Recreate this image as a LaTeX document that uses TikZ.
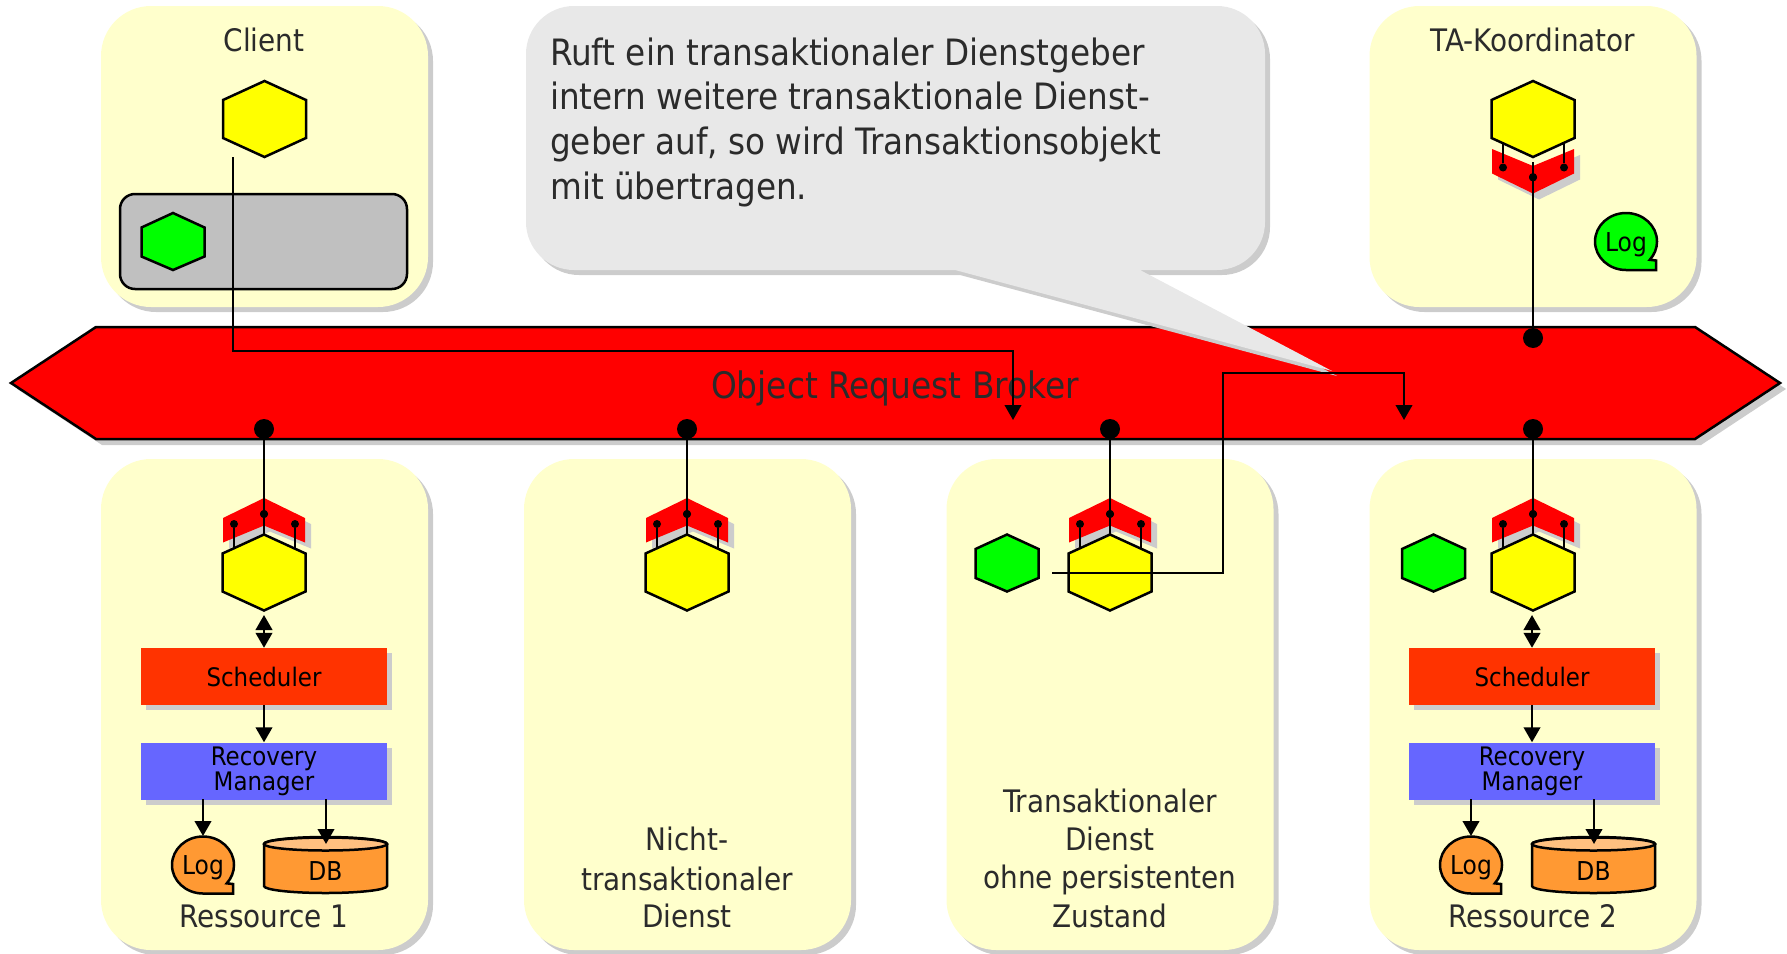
\documentclass[tikz,border=0pt]{standalone}
\usepackage{fontspec}
\setmainfont{DejaVu Sans Condensed}
\usetikzlibrary{arrows.meta,shadows}
\definecolor{panelc}{HTML}{FFFFCC}
\definecolor{shadec}{HTML}{CCCCCC}
\definecolor{bubblec}{HTML}{E8E8E8}
\definecolor{schedc}{HTML}{FF3300}
\definecolor{recoc}{HTML}{6666FF}
\definecolor{orangec}{HTML}{FF9933}
\definecolor{dbtopc}{HTML}{FFC080}
\definecolor{textc}{HTML}{2B2B2B}
\definecolor{hexy}{HTML}{FFFF00}
\definecolor{hexg}{HTML}{00FF00}
\definecolor{orbc}{HTML}{FF0000}
\definecolor{boxg}{HTML}{C0C0C0}
\newcommand{\fsz}[1]{\fontsize{#1}{#1}\selectfont}
\tikzset{
  >={Triangle[length=15pt,width=16.5pt]},
  shd/.style={drop shadow={shadow xshift=6pt,shadow yshift=-6pt,opacity=1,fill=shadec}},
  line/.style={line width=2.5pt},
  panel/.style={fill=panelc,rounded corners=50pt,minimum width=327pt,inner sep=0pt,
    drop shadow={shadow xshift=5pt,shadow yshift=-5pt,opacity=1,fill=shadec}},
  caption/.style={text=textc,font=\fsz{31},align=center,inner sep=0pt},
  blockb/.style={minimum width=246pt,minimum height=57pt,inner sep=0pt,align=center,
    font=\fontsize{25.5}{25}\selectfont,
    drop shadow={shadow xshift=5pt,shadow yshift=-5pt,opacity=1,fill=shadec}},
  smalltxt/.style={font=\fsz{26},inner sep=0pt},
  dotb/.style={circle,fill=black,minimum size=20pt,inner sep=0pt},
  dots/.style={circle,fill=black,minimum size=8pt,inner sep=0pt},
  % grosses und kleines Sechseck
  hexa/.pic={
    \draw[line,pic actions] (0,-38)--(41.5,-19)--(41.5,19)--(0,38)--(-41.5,19)--(-41.5,-19)--cycle;
    \coordinate (-n) at (0,-38);
    \coordinate (-s) at (0,38);
  },
  hexb/.pic={
    \draw[line,pic actions] (0,-28.5)--(31.5,-14)--(31.5,15)--(0,28.5)--(-31.5,15)--(-31.5,-14)--cycle;
  },
  logpic/.pic={
    \draw[line,pic actions] (0,28.5) arc[start angle=90,end angle=400,x radius=31,y radius=28.5]
      -- (30,19) -- (30,28.5) -- cycle;
    \node[smalltxt] (-t) at (0,3) {Log};
  },
  dbpic/.pic={
    \draw[line,fill=orangec] (-61.5,-21) -- (-61.5,21) arc[start angle=180,end angle=0,x radius=61.5,y radius=7]
      -- (61.5,-21) arc[start angle=0,end angle=-180,x radius=61.5,y radius=7] -- cycle;
    \draw[line,fill=dbtopc] (0,-21) ellipse[x radius=61.5,y radius=6.5];
    \node[smalltxt] (-t) at (0,6) {DB};
  },
  % rote Schnittstelle, #1 = Richtung
  iface/.pic={
    \fill[orbc,shd] (0,#1*74.5)--(41,#1*54.5)--(41,#1*30)--(0,#1*47)--(-41,#1*30)--(-41,#1*54.5)--cycle;
    \node[dots] (-m) at (0,#1*58.5) {};
    \node[dots] (-l) at (-30,#1*48.5) {};
    \node[dots] (-r) at (31,#1*48.5) {};
    \coordinate (-la) at (-30,#1*24);
    \coordinate (-ra) at (31,#1*24);
    \draw[line] (-l)--(-la) (-r)--(-ra);
  },
}
\begin{document}
\begin{tikzpicture}[x=1pt,y=-1pt]
\useasboundingbox (0,0) rectangle (1787,953);
% Rahmen oben und unten
\node[panel,minimum height=301pt] (client) at (264.5,156.5) {};
\node[panel,minimum height=301pt] (koord) at (1533,156.5) {};
\foreach \cx/\n in {264.5/1,687.5/2,1110/3,1533/4}
\node[panel,minimum height=491pt] (p\n) at (\cx,704.5) {};
\node[caption] (clienttxt) at (264,40) {Client};
\node[caption] (koordtxt) at (1533,40) {TA-Koordinator};
\node[caption] (res1) at (264,916) {Ressource 1};
\node[caption] (res2) at (1533,916) {Ressource 2};
\node[caption] (nt1) at (687,839) {Nicht-};
\node[caption] (nt2) at (687,879) {transaktionaler};
\node[caption] (nt3) at (687,916) {Dienst};
\node[caption] (td1) at (1110,801) {Transaktionaler};
\node[caption] (td2) at (1110,839) {Dienst};
\node[caption] (td3) at (1110,880) {ohne persistenten};
\node[caption] (td4) at (1110,916) {Zustand};
% Client
\pic[fill=hexy,shd] (hc) at (264.5,119) {hexa};
\draw[line,fill=boxg,rounded corners=15pt] (120,194) rectangle (407,289);
\pic[fill=hexg,shd] (gc) at (173,241.5) {hexb};
% Koordinator
\pic at (1533,119) {iface=1};
\pic[fill=hexy,shd] (hk) at (1533,119) {hexa};
\pic[fill=hexg,shd] (lk) at (1626,241.5) {logpic};
% Broker
\draw[line,fill=orbc,shd] (11,383)--(96,327)--(1695,327)--(1780,383)--(1695,439)--(96,439)--cycle;
\node[text=textc,font=\fsz{36.5},inner sep=0pt] (orb) at (895,388) {Object Request Broker};
\foreach \cx/\n in {264/1,687/2,1110/3,1533/4}{
  \node[dotb] (d\n) at (\cx,429) {};
  \pic (i\n) at (\cx,572.5) {iface=-1};
  \pic[fill=hexy,shd] (h\n) at (\cx,572.5) {hexa};
  \draw[line] (d\n)--(h\n-n);
  \node[dots] at (\cx,514) {};
}
\node[dotb] (dk) at (1533,338) {};
\coordinate (ks) at (1533,162);
\draw[line] (ks)--(dk);
\node[dots] at (1533,177) {};
% Ressourcen
\foreach \cx/\n in {264/1,1532/4}{
  \node[blockb,fill=schedc] (s\n) at (\cx,676.5) {Scheduler};
  \node[blockb,fill=recoc] (r\n) at (\cx,771) {Recovery\\Manager};
  \pic[fill=orangec] (l\n) at (\cx-61,865) {logpic};
  \pic (b\n) at (\cx+61.5,865) {dbpic};
  \coordinate (ht\n) at (\cx,615);
  \coordinate (la\n) at (\cx-61,836);
  \coordinate (lb\n) at (\cx-61,799);
  \coordinate (da\n) at (\cx+62,844);
  \coordinate (db\n) at (\cx+62,799);
  \draw[line,<->] (ht\n)--(s\n.north);
  \draw[line,->] (s\n.south)--(r\n.north);
  \draw[line,->] (lb\n)--(la\n);
  \draw[line,->] (db\n)--(da\n);
}
% gruene Sechsecke
\pic[fill=hexg,shd] (g3) at (1007,563) {hexb};
\pic[fill=hexg,shd] (g4) at (1433.5,563) {hexb};
% Sprechblase
\draw[fill=bubblec,draw=none,drop shadow={shadow xshift=5pt,shadow yshift=-5pt,opacity=1,fill=shadec},rounded corners=48pt]
  (526,6)--(1265,6)--(1265,270)[sharp corners]--(1140,270)--(1332,371)--(955,270)[rounded corners=48pt]--(526,270)--cycle;
\node[text=textc,anchor=north west,inner sep=0pt,align=left,font=\fontsize{36.3}{44.7}\selectfont] (bubbletxt) at (550,37.5)
  {Ruft ein transaktionaler Dienstgeber\\intern weitere transaktionale Dienst-\\geber auf, so wird Transaktionsobjekt\\mit übertragen.};
% Aufrufe
\coordinate (cs) at (233,157);
\coordinate (c1) at (233,351);
\coordinate (c2) at (1013,351);
\coordinate (ct) at (1013,420);
\draw[line,->] (cs)--(c1)--(c2)--(ct);
\coordinate (es) at (1052,573);
\coordinate (e1) at (1223,573);
\coordinate (e2) at (1223,373);
\coordinate (e3) at (1404,373);
\coordinate (et) at (1404,420);
\draw[line,->] (es)--(e1)--(e2)--(e3)--(et);
\end{tikzpicture}
\end{document}
